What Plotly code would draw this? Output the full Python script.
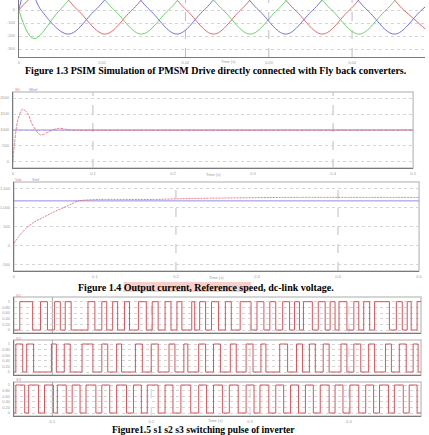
import plotly.graph_objects as go

W, H = 429, 435

# ---------------- data ----------------
# Figure 1.3 : three-phase stator currents (time in ms)
ia_t = [0, 3.80, 7.06, 10.32, 13.58, 16.84, 20.11, 23.37, 26.63, 29.89, 33.15, 36.42, 39.68, 42.94, 46.20, 49.47]
ia_v = [0, 185, 0, -185, 0, 185, 0, -185, 0, 185, 0, -185, 0, 185, 0, -185]
ib_t = [0, 1.78, 4.92, 8.19, 11.45, 14.71, 17.97, 21.23, 24.50, 27.76, 31.02, 34.28, 37.54, 40.81, 44.07, 47.33, 50.59]
ib_v = [0, -220, 0, 185, 0, -185, 0, 185, 0, -185, 0, 185, 0, -185, 0, 185, 0]
ic_t = [0, 1.10, 2.67, 5.93, 9.19, 12.46, 15.72, 18.98, 22.24, 25.50, 28.77, 32.03, 35.29, 38.55, 41.81, 45.08, 48.34, 51.60]
ic_v = [0, 190, 0, -185, 0, 185, 0, -185, 0, 185, 0, -185, 0, 185, 0, -185, 0, 185]
f13_ticks = [0, 10, 20, 30, 40]
f13_ticktext = ["0", "0.01", "0.02", "0.03", "0.04"]

# Figure 1.4 (a): rotor speed and reference speed (time in s)
wr_t = [0, 0.0025, 0.0062, 0.0120, 0.0185, 0.0247, 0.0346, 0.0457, 0.0572, 0.0716, 0.0900, 0.5]
wr_v = [0, 690, 1310, 1650, 1520, 1150, 844, 960, 1053, 1000, 995, 1000]
wref_t = [0, 0.5]
wref_v = [1000, 1000]
speed_ticks = [0, 500, 1000, 1500, 2000]

# Figure 1.4 (b): dc-link voltage and reference (time in s)
vdc_t = [0, 0.0085, 0.0167, 0.0248, 0.0370, 0.0491, 0.0655, 0.0796, 0.1061, 0.1707, 0.2207, 0.3293, 0.5]
vdc_v = [61, 312, 488, 621, 755, 888, 1040, 1181, 1219, 1219, 1245, 1272, 1272]
vref_t = [0, 0.5]
vref_v = [1181, 1181]
vdc_ticks = [-500, 0, 500, 1000, 1500]
vdc_ticktext = ["-500", "0", "500", "1,000", "1,500"]

time_ticks = [0, 0.1, 0.2, 0.3, 0.4, 0.5]

# Figure 1.5 : switching pulses, edge times in ms (signal toggles at each edge)
s1_edges = [67, 80, 88, 95, 102, 108, 113, 119, 136, 143, 150, 155, 161, 166, 173, 178, 187, 195, 201, 207,
            214, 220, 226, 231, 241, 244, 249, 255, 261, 268, 275, 281, 290, 301, 307, 314, 320, 326, 333, 340,
            345, 350, 354, 363, 369, 376, 381, 386, 390, 398, 405, 410, 415, 421, 426, 441, 448, 454, 459, 463, 469]
s2_edges = [63, 70, 74, 81, 99, 104, 112, 118, 130, 141, 150, 156, 165, 170, 184, 191, 200, 207, 218, 224,
            233, 237, 248, 255, 263, 270, 280, 286, 296, 303, 311, 316, 330, 338, 347, 353, 360, 366, 374, 380,
            392, 398, 405, 412, 420, 426, 437, 443, 451, 458, 465, 470]
s3_edges = [63, 72, 76, 86, 92, 101, 105, 114, 120, 128, 134, 144, 150, 158, 165, 175, 182, 190, 196, 207,
            214, 222, 230, 240, 248, 256, 263, 272, 279, 288, 296, 304, 310, 319, 326, 334, 341, 349, 356, 364,
            371, 380, 386, 394, 401, 410, 417, 425, 431, 440, 446, 455, 461, 469]
pulse_ticks = [100, 200, 300, 400]
pulse_ticktext = ["0.1", "0.2", "0.3", "0.4"]
pulse_yticks = [0, 0.2, 0.4, 0.6, 0.8, 1]
pulse_yticktext = ["0", "0.20", "0.40", "0.60", "0.80", "1"]

captions = [
    "Figure 1.3 PSIM Simulation of PMSM Drive directly connected with Fly back converters.",
    "Figure 1.4 Output current, Reference speed, dc-link voltage.",
    "Figure1.5 s1 s2 s3 switching pulse of inverter",
]

# ---------------- styling helpers ----------------
RED = "rgb(228,105,110)"
GREEN = "rgb(105,212,105)"
BLUE = "rgb(112,112,230)"
PULSE = "rgb(214,84,92)"
AX = "#7a7a7a"
GRID = "#d4d4d4"
TF = dict(size=4, color="#9a9a9a", family="Arial")


def dx(a, b):
    return [a / W, b / W]


def dy(top, bottom):
    return [1 - bottom / H, 1 - top / H]


def xax(domain, rng, tv, tt, anchor, labels=True):
    return dict(domain=domain, range=rng, tickvals=tv, ticktext=tt, anchor=anchor,
                showgrid=False, zeroline=False, showline=True, linecolor=AX, linewidth=1,
                ticks="", showticklabels=labels, tickfont=TF, ticklabelstandoff=1)


def yax(domain, rng, tv, tt, anchor):
    return dict(domain=domain, range=rng, tickvals=tv, ticktext=tt, anchor=anchor,
                showgrid=True, gridcolor=GRID, griddash="dot", gridwidth=1,
                zeroline=False, showline=True, linecolor=AX, linewidth=1,
                ticks="", tickfont=TF, ticklabelstandoff=2)


def steps(edges, t0, t1):
    xs, ys = [t0], [0]
    lvl = 0
    for e in edges:
        lvl = 1 - lvl
        xs.append(e)
        ys.append(lvl)
    xs.append(t1)
    ys.append(lvl)
    return xs, ys


fig = go.Figure()

# Figure 1.3
for t, v, c in [(ia_t, ia_v, RED), (ib_t, ib_v, GREEN), (ic_t, ic_v, BLUE)]:
    fig.add_trace(go.Scatter(x=t, y=v, mode="lines", line=dict(color=c, width=1, shape="spline", smoothing=1.0),
                             xaxis="x", yaxis="y", showlegend=False, hoverinfo="skip"))

# Figure 1.4 speed
fig.add_trace(go.Scatter(x=wref_t, y=wref_v, mode="lines", line=dict(color="rgb(150,140,225)", width=1),
                         xaxis="x2", yaxis="y2", showlegend=False, hoverinfo="skip"))
fig.add_trace(go.Scatter(x=wr_t, y=wr_v, mode="lines",
                         line=dict(color="rgba(225,95,110,0.75)", width=1, dash="3px,1px", shape="spline", smoothing=0.8),
                         xaxis="x2", yaxis="y2", showlegend=False, hoverinfo="skip"))

# Figure 1.4 dc-link
fig.add_trace(go.Scatter(x=vref_t, y=vref_v, mode="lines", line=dict(color="rgb(150,140,225)", width=1),
                         xaxis="x3", yaxis="y3", showlegend=False, hoverinfo="skip"))
fig.add_trace(go.Scatter(x=vdc_t, y=vdc_v, mode="lines",
                         line=dict(color="rgba(225,95,110,0.8)", width=1, dash="2px,1px", shape="spline", smoothing=0.6),
                         xaxis="x3", yaxis="y3", showlegend=False, hoverinfo="skip"))

# Figure 1.5 pulses
P0, P1 = 61, 473
for i, ed in enumerate([s1_edges, s2_edges, s3_edges]):
    xs, ys = steps(ed, P0, P1)
    fig.add_trace(go.Scatter(x=xs, y=ys, mode="lines", line=dict(color=PULSE, width=1, shape="hv"),
                             xaxis="x%d" % (4 + i), yaxis="y%d" % (4 + i), showlegend=False, hoverinfo="skip"))

layout = dict(width=W, height=H, margin=dict(l=0, r=0, t=0, b=0), paper_bgcolor="white",
              plot_bgcolor="white", showlegend=False)

layout["xaxis"] = xax(dx(18, 429), [0, 48.75], f13_ticks, f13_ticktext, "y")
layout["yaxis"] = yax(dy(0, 57), [-361, 77], [0, -100, -200, -300], ["0", "-100", "-200", "-300"], "x")

layout["xaxis2"] = xax(dx(12, 417), [0, 0.5], time_ticks, [str(v) for v in time_ticks], "y2")
layout["yaxis2"] = yax(dy(92, 168), [-188, 2188], speed_ticks, [str(v) for v in speed_ticks], "x2")

layout["xaxis3"] = xax(dx(13, 423), [0, 0.5], time_ticks, [str(v) for v in time_ticks], "y3")
layout["yaxis3"] = yax(dy(182, 271), [-667, 1679], vdc_ticks, vdc_ticktext, "x3")

pulse_boxes = [(297, 333, -0.106, 1.166), (340, 375, -0.107, 1.143), (382, 416, -0.107, 1.107)]
for i, (tp, bt, lo, hi) in enumerate(pulse_boxes):
    n = 4 + i
    layout["xaxis%d" % n] = xax(dx(13, 425), [P0, P1], pulse_ticks, pulse_ticktext, "y%d" % n, labels=(i == 2))
    layout["yaxis%d" % n] = yax(dy(tp, bt), [lo, hi], pulse_yticks, pulse_yticktext, "x%d" % n)

shapes = []
# frames (light box)
for (l, t, r, b) in [(12, 92, 417, 168), (13, 182, 423, 271), (13, 297, 425, 333), (13, 340, 425, 375), (13, 382, 425, 416)]:
    shapes.append(dict(type="rect", xref="paper", yref="paper", x0=l / W, x1=r / W, y0=1 - b / H, y1=1 - t / H,
                       line=dict(color="#c8c8c8", width=1.5), layer="below"))
# vertical dashed grid lines (data positions)
for xr, yr, vals in [("x", "y domain", [20, 30, 40]), ("x2", "y2 domain", [0.1, 0.4]),
                     ("x3", "y3 domain", [0.2, 0.4])]:
    for v in vals:
        shapes.append(dict(type="line", xref=xr, yref=yr, x0=v, x1=v, y0=0, y1=1,
                           line=dict(color="#bdbdbd", width=1, dash="dash"), layer="below"))
for n in (4, 5, 6):
    shapes.append(dict(type="line", xref="x%d" % n, yref="y%d domain" % n, x0=100, x1=100, y0=0, y1=1,
                       line=dict(color="#a8a8a8", width=1), layer="below"))
    for v in (200, 300, 400):
        shapes.append(dict(type="line", xref="x%d" % n, yref="y%d domain" % n, x0=v, x1=v, y0=0, y1=1,
                           line=dict(color="#d0d0d0", width=1, dash="dash"), layer="below"))
# highlight behind part of caption 2
shapes.append(dict(type="rect", xref="paper", yref="paper", x0=124 / W, x1=253 / W, y0=1 - 292 / H, y1=1 - 282 / H,
                   fillcolor="rgba(242,170,160,0.55)", line=dict(width=0), layer="below"))
layout["shapes"] = shapes

CAP = dict(family="Liberation Serif", size=10, color="black")
ann = []


def txt(x, y, s, font, anchor="center"):
    ann.append(dict(x=x / W, y=1 - y / H, xref="paper", yref="paper", text=s, showarrow=False,
                    font=font, xanchor=anchor, yanchor="middle"))


txt(218, 71, "<b>%s</b>" % captions[0], CAP)
txt(207, 287, "<b>%s</b>" % captions[1], CAP)
txt(205, 429.5, "<b>%s</b>" % captions[2], dict(family="Liberation Serif", size=9.6, color="black"))

SMALL = dict(size=4, color="#9a9a9a", family="Arial")
txt(230, 61.5, "Time (s)", SMALL)
txt(215, 174, "Time (s)", SMALL)
txt(218, 277, "Time (s)", SMALL)
txt(217, 420.3, "Time (s)", SMALL)

PINK = dict(size=4, color="rgb(235,130,140)", family="Arial")
LBLUE = dict(size=4, color="rgb(140,140,230)", family="Arial")
txt(12, 89, "Wr", PINK, "left")
txt(26, 89, "Wref", LBLUE, "left")
txt(12, 179, "Vdc", PINK, "left")
txt(29, 179, "Vref", LBLUE, "left")
txt(13, 295, "S1", PINK, "left")
txt(13, 338, "S2", PINK, "left")
txt(13, 379, "S3", PINK, "left")
layout["annotations"] = ann

fig.update_layout(**layout)
fig.write_html("out.html")
